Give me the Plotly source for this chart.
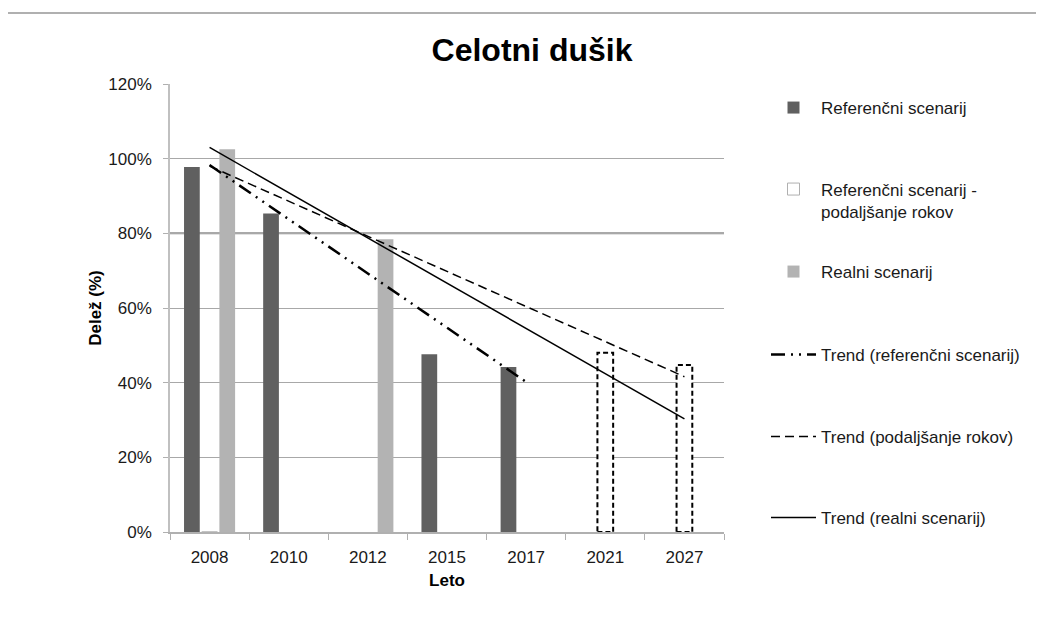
import plotly.graph_objects as go

# ---- data ----
years = ['2008', '2010', '2012', '2015', '2017', '2021', '2027']
referencni = [97.8, 85.3, None, 47.6, 44.2, None, None]
podaljsanje = [0, None, None, None, None, 48.0, 44.7]
realni = [102.5, None, 78.4, None, None, None, None]

trend_ref_x = ['2008', '2017']
trend_ref_y = [98.3, 40.2]
trend_pod_x = ['2008', '2027']
trend_pod_y = [98.0, 41.6]
trend_real_x = ['2008', '2027']
trend_real_y = [103.0, 30.3]

target_line = 80

y_ticks = [0, 20, 40, 60, 80, 100, 120]
y_ticktext = ['0%', '20%', '40%', '60%', '80%', '100%', '120%']

# ---- layout constants ----
FONT = 'Liberation Sans'
BARGAP = 0.33
BARGROUPGAP = 0.11
OFF = 8                      # page body margin offset
W, H = 1044 - OFF, 617 - OFF
L, T = 170 - OFF, 84 - OFF
R = W - (724 - OFF)
B = H - (532 - OFF)
PW, PH = W - L - R, H - T - B


def ypaper(py):
    # py: page pixel y
    return (H - B - (py - OFF)) / PH


def xpaper(px):
    return (px - OFF - L) / PW


fig = go.Figure()

fig.add_trace(go.Bar(
    x=years, y=referencni, name='Referenčni scenarij',
    marker=dict(color='#606060', line=dict(width=0)),
    legend='legend'))
fig.add_trace(go.Bar(
    x=years, y=podaljsanje, name='Referenčni scenarij -<br>podaljšanje rokov',
    marker=dict(color='white',
                line=dict(width=[1] + [0] * (len(years) - 1), color='#b0b0b0')),
    legend='legend2'))
fig.add_trace(go.Bar(
    x=years, y=realni, name='Realni scenarij',
    marker=dict(color='#b3b3b3', line=dict(width=0)),
    legend='legend3'))

fig.add_trace(go.Scatter(
    x=trend_ref_x, y=trend_ref_y, mode='lines', name='Trend (referenčni scenarij)',
    line=dict(color='black', width=2.5, dash='14px,6px,2px,6px,2px,6px'),
    legend='legend4'))
fig.add_trace(go.Scatter(
    x=trend_pod_x, y=trend_pod_y, mode='lines', name='Trend (podaljšanje rokov)',
    line=dict(color='black', width=1.5, dash='9px,5px'),
    legend='legend5'))
fig.add_trace(go.Scatter(
    x=trend_real_x, y=trend_real_y, mode='lines', name='Trend (realni scenarij)',
    line=dict(color='black', width=1.5),
    legend='legend6'))

# dashed outlines of the "podaljšanje" bars (bar outlines cannot be dashed in plotly)
slot = (1 - BARGAP) / 3
w = slot * (1 - BARGROUPGAP)
for i, v in enumerate(podaljsanje):
    if v:
        fig.add_shape(type='rect', xref='x', yref='y', x0=i - w / 2, x1=i + w / 2,
                      y0=0, y1=v, line=dict(color='black', width=2, dash='5px,3px'),
                      fillcolor='rgba(0,0,0,0)', layer='above')

# thicker 80% line
fig.add_shape(type='line', xref='paper', yref='y', x0=0, x1=1, y0=target_line, y1=target_line,
              line=dict(color='#8c8c8c', width=2), layer='below')

# outer top border
fig.add_shape(type='line', xref='paper', yref='paper', x0=xpaper(0), x1=xpaper(1044),
              y0=ypaper(13), y1=ypaper(13), line=dict(color='#b0b0b0', width=2))

legend_y = [108, 200.5, 272, 355, 437, 518]
legend_common = dict(x=xpaper(766), xanchor='left', yanchor='middle', itemwidth=45,
                     bgcolor='rgba(0,0,0,0)', font=dict(family=FONT, size=17, color='#1a1a1a'),
                     itemclick=False, itemdoubleclick=False, valign='top', borderwidth=0)
legends = {}
for k, py in enumerate(legend_y):
    key = 'legend' if k == 0 else f'legend{k + 1}'
    legends[key] = dict(y=ypaper(py), **legend_common)

fig.update_layout(
    width=W, height=H,
    margin=dict(l=L, r=R, t=T, b=B),
    paper_bgcolor='white', plot_bgcolor='white',
    font=dict(family=FONT, size=17, color='#1a1a1a'),
    barmode='group', bargap=BARGAP, bargroupgap=BARGROUPGAP,
    title=dict(text='<b>Celotni dušik</b>', x=(532 - OFF) / W, xanchor='center',
               y=1 - (50 - OFF) / H, yanchor='middle', yref='container',
               font=dict(family=FONT, size=32, color='black')),
    showlegend=True,
    **legends,
)

fig.update_xaxes(
    type='category', categoryorder='array', categoryarray=years,
    showline=True, linecolor='#b0b0b0', linewidth=1.5,
    ticks='outside', tickson='boundaries', ticklen=6, tickcolor='#b0b0b0',
    ticklabelstandoff=9,
    showgrid=False, tickfont=dict(family=FONT, size=17, color='#1a1a1a'),
    title=dict(text='<b>Leto</b>', standoff=8, font=dict(family=FONT, size=17, color='black')),
)
fig.update_yaxes(
    range=[0, 120], tickvals=y_ticks, ticktext=y_ticktext,
    showline=True, linecolor='#c0c0c0', linewidth=1.5,
    ticks='outside', ticklen=5, tickcolor='#b0b0b0',
    showgrid=True, gridcolor='#a8a8a8', gridwidth=1, zeroline=False,
    ticklabelstandoff=8,
    tickfont=dict(family=FONT, size=17, color='#1a1a1a'),
    title=dict(text='<b>Delež (%)</b>', standoff=2, font=dict(family=FONT, size=17, color='black')),
)

fig.write_html('out.html')
